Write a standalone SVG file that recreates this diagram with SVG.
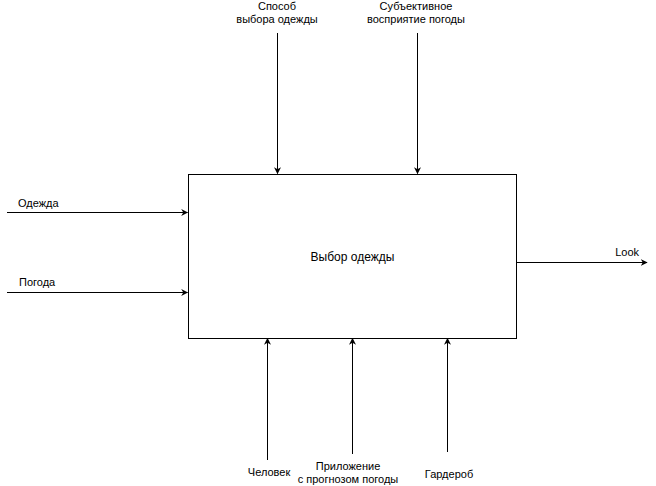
<svg xmlns="http://www.w3.org/2000/svg" width="656" height="486" viewBox="0 0 656 486">
  <style>
    text { font-family: "Liberation Sans", Arial, sans-serif; font-size: 11px; fill: #000; }
    .c { text-anchor: middle; }
    .e { text-anchor: end; }
    .title { font-size: 12px; }
    .link { stroke: #000; stroke-width: 1; fill: none; marker-end: url(#arrow); }
  </style>
  <defs>
    <marker id="arrow" viewBox="0 0 10 10" refX="9" refY="5" markerWidth="7" markerHeight="7" markerUnits="userSpaceOnUse" orient="auto">
      <path d="M0,0 L10,5 L0,10 L3,5 Z" fill="#000"/>
    </marker>
  </defs>
  <rect width="656" height="486" fill="#fff"/>

  <g id="connectors">
    <!-- controls (top) -->
    <path class="link" d="M277.5,33 V173.5"/>
    <path class="link" d="M417.5,33 V173.5"/>
    <!-- inputs (left) -->
    <path class="link" d="M7,212.5 H187.5"/>
    <path class="link" d="M7,292.5 H187.5"/>
    <!-- output (right) -->
    <path class="link" d="M516.5,262.5 H647"/>
    <!-- mechanisms (bottom) -->
    <path class="link" d="M267.5,460 V338.5"/>
    <path class="link" d="M352.5,454 V338.5"/>
    <path class="link" d="M447.5,452 V338.5"/>
  </g>

  <g id="node-main">
    <rect x="188.5" y="174.5" width="328" height="164" fill="#fff" stroke="#000" stroke-width="1"/>
    <text class="c title" x="352.5" y="261">Выбор одежды</text>
  </g>

  <g id="label-control-1">
    <text class="c" x="277" y="10">Способ</text>
    <text class="c" x="277" y="23">выбора одежды</text>
  </g>
  <g id="label-control-2">
    <text class="c" x="416" y="10">Субъективное</text>
    <text class="c" x="416" y="23">восприятие погоды</text>
  </g>
  <g id="label-input-1">
    <text x="18" y="207">Одежда</text>
  </g>
  <g id="label-input-2">
    <text x="19" y="286">Погода</text>
  </g>
  <g id="label-output">
    <text class="e" x="639" y="256">Look</text>
  </g>
  <g id="label-mech-1">
    <text class="c" x="269" y="476">Человек</text>
  </g>
  <g id="label-mech-2">
    <text class="c" x="348" y="470">Приложение</text>
    <text class="c" x="348" y="483">с прогнозом погоды</text>
  </g>
  <g id="label-mech-3">
    <text class="c" x="449" y="478">Гардероб</text>
  </g>
</svg>
